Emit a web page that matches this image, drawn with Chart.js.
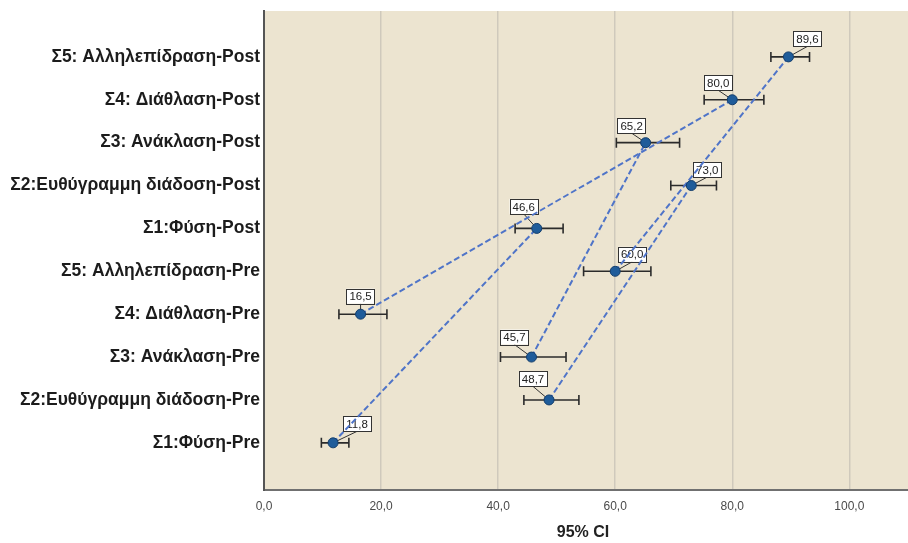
<!DOCTYPE html>
<html>
<head>
<meta charset="utf-8">
<script src="https://cdn.jsdelivr.net/npm/chart.js@4.4.1/dist/chart.umd.min.js"></script>
<style>
  html, body { margin: 0; padding: 0; background: #fff; }
  #wrap { width: 908px; height: 543px; }
</style>
</head>
<body>
<div id="wrap"><canvas id="c" width="908" height="543"></canvas></div>
<script>
// categories from bottom to top of the y axis
const categories = [
    'Σ1:Φύση-Pre',
    'Σ2:Ευθύγραμμη διάδοση-Pre',
    'Σ3: Ανάκλαση-Pre',
    'Σ4: Διάθλαση-Pre',
    'Σ5: Αλληλεπίδραση-Pre',
    'Σ1:Φύση-Post',
    'Σ2:Ευθύγραμμη διάδοση-Post',
    'Σ3: Ανάκλαση-Post',
    'Σ4: Διάθλαση-Post',
    'Σ5: Αλληλεπίδραση-Post'
]
const means = [11.8, 48.7, 45.7, 16.5, 60.0, 46.6, 73.0, 65.2, 80.0, 89.6]
const lower = [9.8, 44.4, 40.4, 12.8, 54.6, 42.9, 69.5, 60.2, 75.2, 86.6]
const upper = [14.5, 53.8, 51.6, 21.0, 66.1, 51.1, 77.3, 71.0, 85.4, 93.2]
const xTicks = [0, 20, 40, 60, 80, 100]

// where each value box sits relative to its point (px)
const labelOffsets = [[24, -19], [-16, -21], [-17, -20], [0, -18], [17, -17],
                      [-13, -22], [16, -16], [-14, -17], [-14, -17], [19, -18]]

const fmt = v => v.toFixed(1).replace('.', ',')

const points = means.map((m, i) => ({ x: m, y: i + 1 }))

// Pre -> Post dashed connectors
const lineSets = [0, 1, 2, 3, 4].map(i => ({
    type: 'scatter',
    data: [points[i], points[i + 5]],
    showLine: true,
    borderColor: '#4f74c8',
    borderWidth: 2,
    borderDash: [6, 3],
    pointRadius: 0,
    order: 1
}))

const plotBg = {
    id: 'plotBg',
    beforeDraw(chart) {
        const { ctx, chartArea: a } = chart
        ctx.save()
        ctx.fillStyle = '#ece4d0'
        ctx.fillRect(a.left, a.top, chart.width - a.left, a.bottom - a.top)
        ctx.restore()
    },
    afterDraw(chart) {
        // bottom axis runs on to the edge of the picture
        const { ctx, chartArea: a } = chart
        ctx.save()
        ctx.strokeStyle = '#707070'
        ctx.lineWidth = 2
        ctx.beginPath()
        ctx.moveTo(a.right - 1, a.bottom)
        ctx.lineTo(chart.width, a.bottom)
        ctx.stroke()
        ctx.restore()
    }
}

const errorBars = {
    id: 'errorBars',
    beforeDatasetsDraw(chart) {
        const { ctx } = chart
        const xs = chart.scales.x, ys = chart.scales.y
        ctx.save()
        ctx.strokeStyle = '#2b2b2b'
        ctx.lineWidth = 1.6
        means.forEach((m, i) => {
            const y = ys.getPixelForValue(i + 1)
            const x1 = xs.getPixelForValue(lower[i])
            const x2 = xs.getPixelForValue(upper[i])
            ctx.beginPath()
            ctx.moveTo(x1, y); ctx.lineTo(x2, y)
            ctx.moveTo(x1, y - 5); ctx.lineTo(x1, y + 5)
            ctx.moveTo(x2, y - 5); ctx.lineTo(x2, y + 5)
            ctx.stroke()
        })
        // value boxes
        ctx.font = '11.5px "Liberation Sans", Arial, sans-serif'
        ctx.textAlign = 'center'
        ctx.textBaseline = 'middle'
        means.forEach((m, i) => {
            const px = xs.getPixelForValue(m)
            const py = ys.getPixelForValue(i + 1)
            const cx = px + labelOffsets[i][0]
            const cy = py + labelOffsets[i][1]
            const t = fmt(m)
            const w = ctx.measureText(t).width + 6
            const h = 15
            ctx.strokeStyle = '#333'
            ctx.lineWidth = 1
            ctx.beginPath()
            ctx.moveTo(cx, cy + h / 2)
            ctx.lineTo(px, py)
            ctx.stroke()
            ctx.fillStyle = '#fff'
            ctx.fillRect(cx - w / 2, cy - h / 2, w, h)
            ctx.strokeRect(Math.round(cx - w / 2) + 0.5, Math.round(cy - h / 2) + 0.5, Math.round(w), h)
            ctx.fillStyle = '#222'
            ctx.fillText(t, cx, cy + 1)
        })
        ctx.restore()
    }
}

new Chart(document.getElementById('c').getContext('2d'), {
    type: 'scatter',
    data: {
        datasets: [{
            data: points,
            pointRadius: 5,
            pointBackgroundColor: '#1f5c9a',
            pointBorderColor: '#143e6c',
            pointBorderWidth: 1,
            order: 0
        }, ...lineSets]
    },
    options: {
        responsive: false,
        animation: false,
        events: [],
        layout: { padding: { top: 11, right: 0, left: 0, bottom: 0 } },
        plugins: { legend: { display: false }, tooltip: { enabled: false } },
        scales: {
            x: {
                type: 'linear',
                min: 0,
                max: 109,
                afterBuildTicks: s => { s.ticks = xTicks.map(v => ({ value: v })) },
                afterFit: s => { s.height = 53 },
                grid: { color: '#cfc9bc', lineWidth: 1.5, drawTicks: false },
                border: { color: '#707070', width: 2 },
                ticks: {
                    callback: v => fmt(v),
                    color: '#4a4a4a',
                    padding: 9,
                    font: { family: '"Liberation Sans", Arial, sans-serif', size: 12 }
                },
                title: {
                    display: true,
                    text: '95% CI',
                    color: '#222',
                    padding: { top: 9, bottom: 1 },
                    font: { family: '"Liberation Sans", Arial, sans-serif', size: 16, weight: 'bold' }
                }
            },
            y: {
                type: 'linear',
                min: -0.1,
                max: 11.07,
                afterBuildTicks: s => { s.ticks = categories.map((c, i) => ({ value: i + 1 })) },
                afterFit: s => { s.width = 264 },
                grid: { display: false },
                border: { color: '#555', width: 2 },
                ticks: {
                    callback: v => categories[v - 1],
                    color: '#1c1c1c',
                    padding: -4,
                    font: { family: '"Liberation Sans", Arial, sans-serif', size: 17.5, weight: 'bold' }
                }
            }
        }
    },
    plugins: [plotBg, errorBars]
})
</script>
</body>
</html>
